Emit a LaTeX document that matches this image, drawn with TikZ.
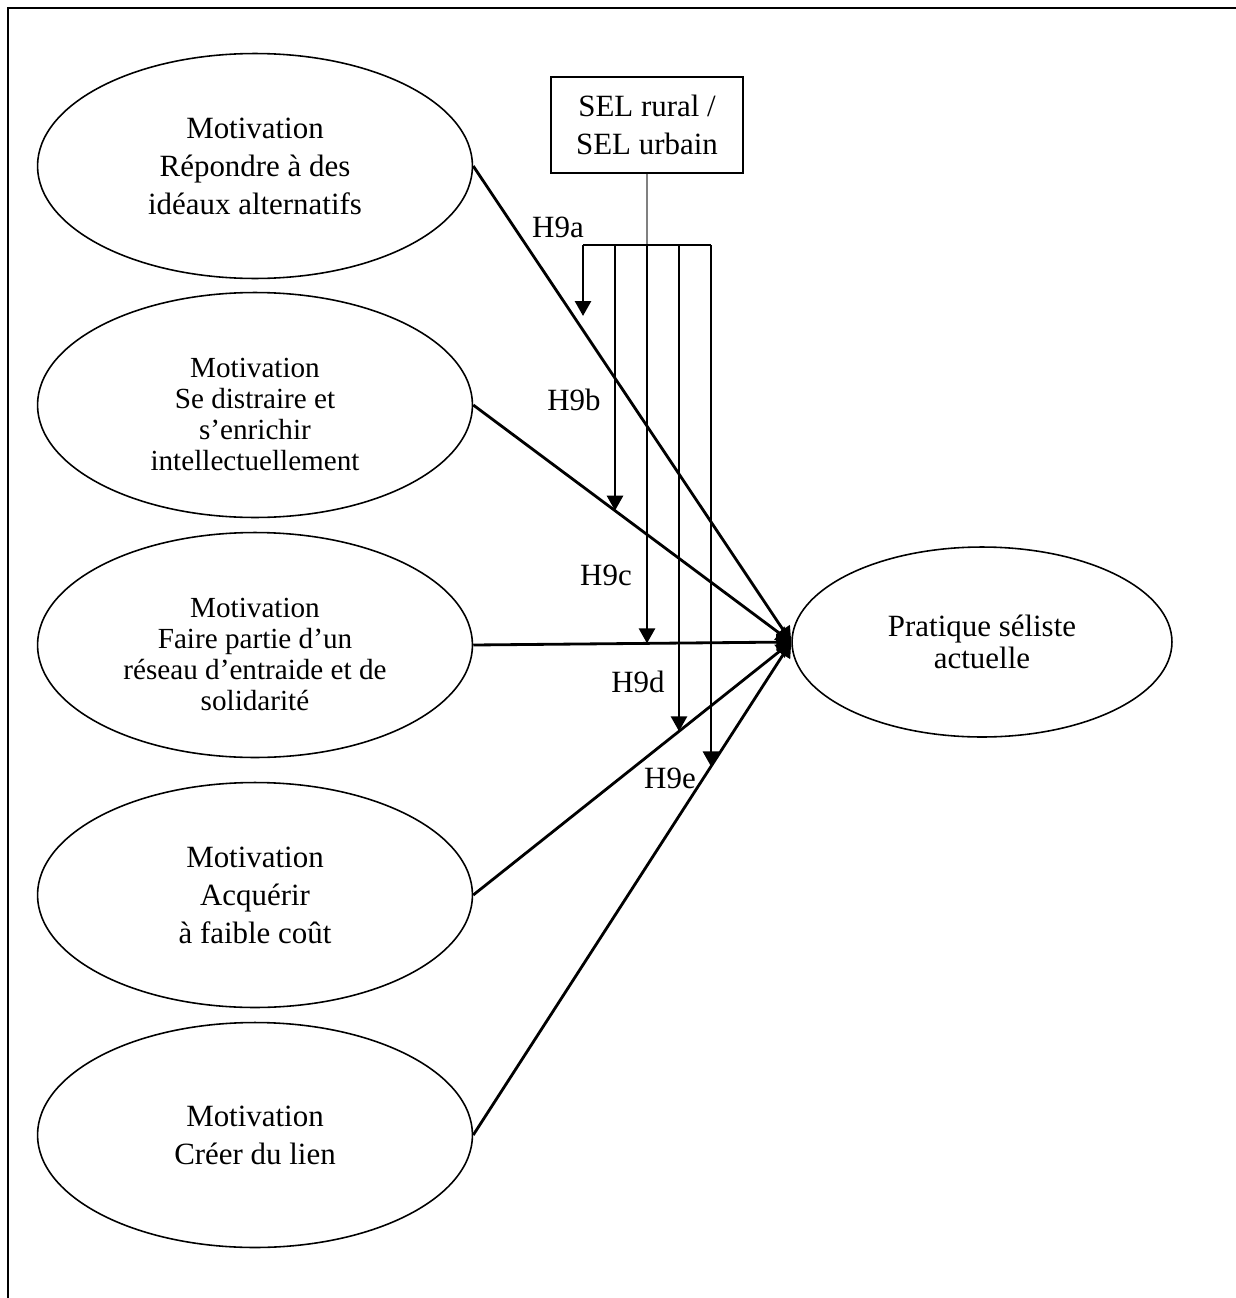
\documentclass[tikz,border=0pt]{standalone}
\usepackage{fontspec}
\setmainfont{Liberation Serif}
\usetikzlibrary{shapes.geometric, arrows.meta, intersections}

\tikzset{
  motiv/.style={ellipse, draw, line width=0.9pt, inner sep=0pt, align=center,
                minimum width=8.7cm, minimum height=4.5cm,
                font=\fontsize{17.6pt}{21.6pt}\selectfont},
  motivsmall/.style={motiv, font=\fontsize{16.6pt}{17.6pt}\selectfont},
  practice/.style={ellipse, draw, line width=0.9pt, inner sep=0pt, align=center,
                   minimum width=7.6cm, minimum height=3.8cm,
                   font=\fontsize{17.6pt}{18.5pt}\selectfont},
  modbox/.style={rectangle, draw, line width=1.1pt, align=center,
                 minimum width=3.84cm, minimum height=1.92cm,
                 font=\fontsize{17.6pt}{21.6pt}\selectfont},
  hyp/.style={font=\fontsize{17.6pt}{21.6pt}\selectfont, inner sep=0pt},
  path/.style={line width=1.6pt, -{Triangle[length=0.3cm, width=0.32cm]}},
}
% taller first line, pushes the text a little down in its ellipse
\newcommand{\lowtext}{\rule{0pt}{22pt}}

\begin{document}
\begin{tikzpicture}[x=0.02cm, y=-0.02cm]
  \useasboundingbox (0,0) rectangle (1236,1298);

  % page frame (left and top edges only)
  \draw[line width=1.5pt] (8,1298) -- (8,8) -- (1236,8);

  % motivations
  \node[motiv] (m1) at (255,166) {Motivation\\Répondre à des\\idéaux alternatifs};
  \node[motivsmall] (m2) at (255,405) {\lowtext Motivation\\Se distraire et\\s’enrichir\\intellectuellement};
  \node[motivsmall] (m3) at (255,645) {\lowtext Motivation\\Faire partie d’un\\réseau d’entraide et de\\solidarité};
  \node[motiv] (m4) at (255,895) {Motivation\\Acquérir\\à faible coût};
  \node[motiv] (m5) at (255,1135) {Motivation\\Créer du lien};

  % outcome
  \node[practice] (prat) at (982,642) {Pratique séliste\\actuelle};

  % moderator
  \node[modbox] (sel) at (647,125) {SEL rural /\\SEL urbain};

  % direct effects
  \foreach \i in {1,...,5} {
    \draw[path, name path global=l\i] (m\i.east) -- (prat.west);
  }

  % moderating effects
  \foreach \k/\x in {a/583, b/615, c/647, d/679, e/711} {
    \coordinate (top\k) at (\x,245);
    \path[name path global=v\k] (top\k) -- ++(0,700);
  }
  \draw[gray, line width=0.6pt] (sel.south) -- (topc);
  \draw[line width=1.6pt] (topa) -- (tope);

  \coordinate (tipa) at (583,316);
  \path[name intersections={of=vb and l2, by=tipb}];
  \path[name intersections={of=vc and l3, by=tipc}];
  \path[name intersections={of=vd and l4, by=tipd}];
  \path[name intersections={of=ve and l5, by=tipe}];
  \foreach \k in {a,b,c,d,e} {
    \draw[path] (top\k) -- (tip\k);
  }

  % hypothesis labels
  \node[hyp] (ha) at (558,227) {H9a};
  \node[hyp] (hb) at (574,400) {H9b};
  \node[hyp] (hc) at (606,575) {H9c};
  \node[hyp] (hd) at (638,682) {H9d};
  \node[hyp] (he) at (670,778) {H9e};
\end{tikzpicture}
\end{document}
